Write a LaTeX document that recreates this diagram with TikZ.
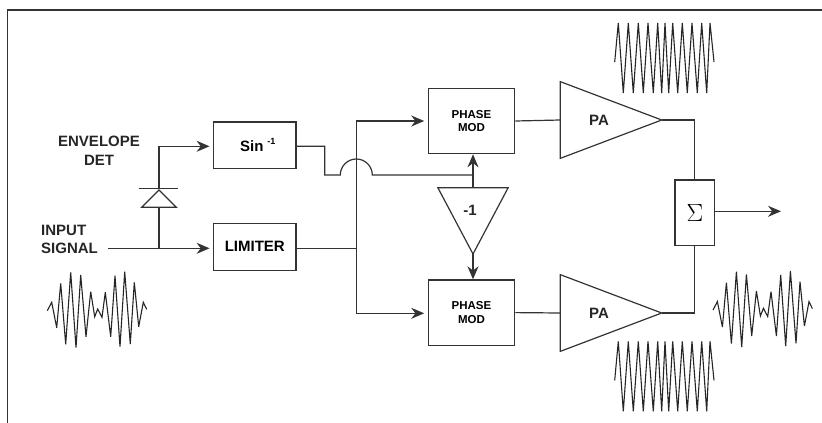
\documentclass[tikz,border=0pt]{standalone}
\usepackage{fontspec}
\setmainfont{Liberation Sans}
\usetikzlibrary{calc, positioning}
\usetikzlibrary{arrows.meta}
\usetikzlibrary{shapes.geometric}

\tikzset{
  sigline/.style={line width=1.2pt,black!80},
  sigarrow/.style={sigline,-{Stealth[length=13pt,width=11pt]}},
  wave/.style={line width=1.1pt,black!85,line join=miter,miter limit=4},
  blockbox/.style={draw=black!80,line width=1.2pt,fill=white,inner sep=0pt,font=\fontsize{15}{18}\bfseries\selectfont},
  ampshape/.style={draw=black!80,line width=1.2pt,isosceles triangle,isosceles triangle stretches,inner sep=0pt,outer sep=0pt},
  bigtext/.style={black!85,inner sep=0pt,font=\fontsize{15}{18.5}\bfseries\selectfont},
}

\begin{document}
\begin{tikzpicture}[x=1pt,y=-1pt]
\useasboundingbox (0,0) rectangle (822,423);
\def\cwwave{(4.7,47) (8.3,8) (13.3,78) (18.3,8) (23.3,78) (28.3,8) (33.3,78) (38,8) (43.3,78) (47.7,8) (51.7,78) (55,8) (58.7,78) (62.7,8) (67.7,78) (72.3,8) (77.3,78) (82,8) (87.3,78) (91.7,8) (96.7,78) (100,8) (104,47)}
\def\envwave{(7.3,45.7) (11.7,37.3) (16.7,62.7) (20.7,18.3) (25.7,79.3) (30.7,7.3) (36,82.7) (40.7,10) (46,71.7) (50.7,26.7) (54.7,51.7) (57.7,44) (62,52.3) (65.3,27.3) (70.7,71.7) (75,10.7) (80,81.7) (84.7,6.7) (90.3,79) (94.3,17.3) (98.7,61.7) (103.3,37.3) (106.7,44.3)}

% Frame
\draw[line width=1.5pt,black!80] (7.5,423) -- (7.5,10) -- (822,10);

% Blocks
\node[blockbox,minimum width=82.3pt,minimum height=46.3pt] (sinbox) at (254.8,145.1) {\hspace{6pt}Sin\hspace{4pt}\raisebox{6.5pt}{\fontsize{9}{9}\selectfont -1}};
\node[blockbox,minimum width=82.3pt,minimum height=47pt] (limiter) at (254.8,246.8) {LIMITER};
\node[blockbox,minimum width=86.4pt,minimum height=65.4pt,font=\fontsize{11.5}{13.7}\bfseries\selectfont,align=center] (phaseA) at (471.5,121) {PHASE\\MOD};
\node[blockbox,minimum width=86.4pt,minimum height=65.4pt,font=\fontsize{11.5}{13.7}\bfseries\selectfont,align=center] (phaseB) at (471.5,312.6) {PHASE\\MOD};
\node[blockbox,minimum width=39.7pt,minimum height=65.3pt,font=\normalfont] (sumbox) at (694.8,212.6) {\fontsize{25}{25}\selectfont$\Sigma$};

% Triangles
\node[ampshape,minimum width=76.7pt,minimum height=101.4pt,anchor=apex] (paA) at (661.7,120) {};
\node[ampshape,minimum width=76.7pt,minimum height=101.4pt,anchor=apex] (paB) at (661.7,313) {};
\node[ampshape,shape border rotate=270,minimum width=70.3pt,minimum height=66.3pt,anchor=apex] (invert) at (473,254) {};
\node[ampshape,shape border rotate=90,minimum width=34.7pt,minimum height=17.3pt,anchor=apex] (diode) at (159,190) {};
\node[bigtext] (paAtext) at (599,120) {PA};
\node[bigtext] (paBtext) at (599,313) {PA};
\node[bigtext] (inverttext) at (470,210.5) {-1};

% Labels
\node[bigtext,align=center] (envlabel) at (99,151) {ENVELOPE\\DET};
\node[bigtext,align=left] (inputlabel) at (41,239.5) [anchor=west] {INPUT\\SIGNAL};

% Junctions
\coordinate (inputend) at (108,248.3);
\coordinate (diodetap) at (159,248.3);
\coordinate (diodebar) at (159,188.3);
\coordinate (envcorner) at (159,146.3);
\coordinate (splitmid) at (356.3,248.3);
\coordinate (splittop) at (356.3,121);
\coordinate (splitbot) at (356.3,313.3);
\coordinate (sinkneeA) at (324.7,146.3);
\coordinate (sinkneeB) at (324.7,175);
\coordinate (humpstart) at (340.3,175);
\coordinate (invertin) at (473,175);
\coordinate (sumcornerA) at (694.3,120);
\coordinate (sumcornerB) at (694.3,313);
\coordinate (outend) at (781,211.3);

% Input side
\draw[sigarrow,shorten >=3.5pt] (inputend) -- (inputend -| limiter.west);
\draw[sigline] (diodetap) -- (diode.lower side);
\draw[sigline] (138.7,188.3) -- (178,188.3);
\draw[sigarrow,shorten >=3.5pt] (diodebar) -- (envcorner) -- (envcorner -| sinbox.west);

% Sin output with the hop over the split
\draw[sigline] (sinbox.east |- envcorner) -- (sinkneeA) -- (sinkneeB) -- (humpstart)
    arc[start angle=180,end angle=360,radius=16] -- (invertin);

% Limiter output and split
\draw[sigline] (limiter.east |- splitmid) -- (splitmid);
\draw[sigarrow,shorten >=3.5pt] (splitmid) -- (splittop) -- (phaseA.west |- splittop);
\draw[sigarrow,shorten >=3.5pt] (splitmid) -- (splitbot) -- (phaseB.west |- splitbot);

% Inverter
\draw[sigarrow] (invert.lower side) -- (phaseA.south -| invert.lower side);
\draw[sigarrow] (invert.apex) -- (phaseB.north -| invert.apex);

% Amplifiers to the sum
\draw[sigline] (phaseA.east) -- (paA.lower side);
\draw[sigline] (phaseB.east) -- (paB.lower side);
\draw[sigline] (paA.apex) -- (sumcornerA) -- (sumbox.north -| sumcornerA);
\draw[sigline] (paB.apex) -- (sumcornerB) -- (sumbox.south -| sumcornerB);
\draw[sigarrow] (sumbox.east |- outend) -- (outend);

% Waveforms
\draw[wave,shift={(610,15)}] plot coordinates {\cwwave};
\draw[wave,shift={(610,333.3)}] plot coordinates {\cwwave};
\draw[wave,shift={(40,265)}] plot coordinates {\envwave};
\draw[wave,shift={(705.7,264.3)}] plot coordinates {\envwave};
\end{tikzpicture}
\end{document}
